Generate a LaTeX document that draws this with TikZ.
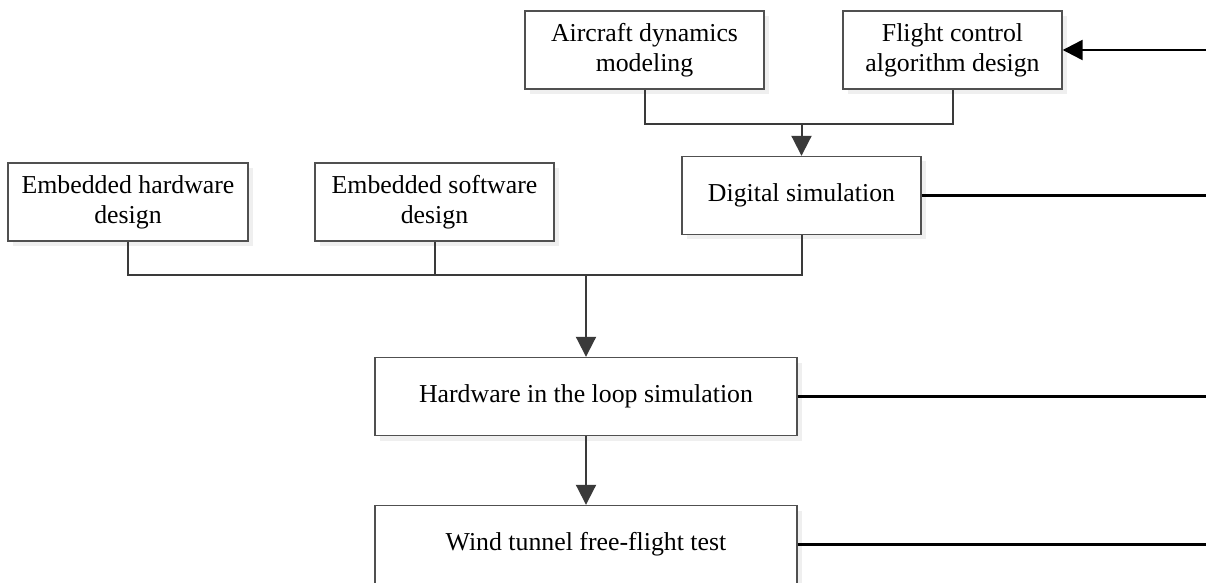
\documentclass[tikz,border=0pt]{standalone}
\usepackage{fontspec}
\setmainfont{Liberation Serif}
\usetikzlibrary{arrows.meta,shadows}
\definecolor{framegray}{HTML}{505050}
\definecolor{wiregray}{HTML}{3A3A3A}
\begin{document}
\begin{tikzpicture}[x=0.5pt, y=-0.5pt,
		stage/.style = {draw=framegray, line width=0.7pt, fill=white, align=center,
			inner sep=0pt, minimum height=39pt, font=\fontsize{12.9}{15}\selectfont,
			drop shadow={shadow xshift=2.5pt, shadow yshift=-2.5pt, fill=black!12}},
		wire/.style = {draw=wiregray, line width=1pt},
		flowarrow/.style = {wire, -{Triangle[length=10pt, width=10pt]}},
		outline/.style = {draw=black, line width=1.2pt}
	]
	\useasboundingbox (0,0) rectangle (1206,583);
	\node[stage, minimum width=119.5pt] (aircraft) at (644.5,50) {Aircraft dynamics\\modeling};
	\node[stage, minimum width=109.5pt] (flight) at (952.5,50) {Flight control\\algorithm design};
	\node[stage, minimum width=119.5pt] (digital) at (801.5,195.5) {Digital simulation};
	\node[stage, minimum width=120pt] (hwdesign) at (128,202) {Embedded hardware\\design};
	\node[stage, minimum width=119.5pt] (swdesign) at (434.5,202) {Embedded software\\design};
	\node[stage, minimum width=211pt] (hil) at (586,396.5) {Hardware in the loop simulation};
	\node[stage, minimum width=211pt] (tunnel) at (586,544.5) {Wind tunnel free-flight test};
	\coordinate (upperjoin) at (801.5,124);
	\coordinate (lowerjoin) at (586,275);
	\coordinate (rim) at (1206,0);
	\draw[wire] (aircraft.south) |- (upperjoin -| flight.south) -- (flight.south);
	\draw[flowarrow] (upperjoin) -- (digital.north);
	\draw[wire] (hwdesign.south) |- (lowerjoin -| digital.south) -- (digital.south);
	\draw[wire] (swdesign.south) -- (swdesign.south |- lowerjoin);
	\draw[flowarrow] (lowerjoin) -- (hil.north);
	\draw[flowarrow] (hil) -- (tunnel);
	% lines running out to the right edge
	\draw[outline, -{Triangle[length=10pt, width=10pt]}] (flight.east -| rim) -- (flight.east);
	\foreach \stagename in {digital, hil, tunnel}
		\draw[outline] (\stagename.east) -- (\stagename.east -| rim);
\end{tikzpicture}
\end{document}
